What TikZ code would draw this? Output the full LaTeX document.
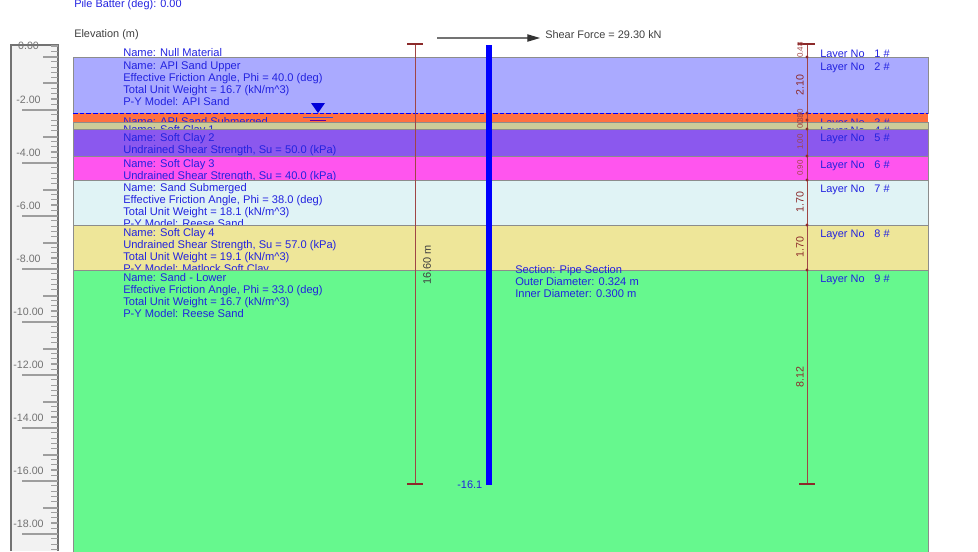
\documentclass[tikz,border=0pt]{standalone}
\usepackage{fontspec}
\setmainfont{Liberation Sans}
\usetikzlibrary{arrows.meta}
\definecolor{soilupper}{HTML}{AAAAFF}
\definecolor{soilorange}{HTML}{FF7040}
\definecolor{soilkhaki}{HTML}{CCCC99}
\definecolor{soilpurple}{HTML}{8B58EE}
\definecolor{soilmagenta}{HTML}{FF55EE}
\definecolor{soilcyan}{HTML}{E0F3F5}
\definecolor{soilyellow}{HTML}{EEE699}
\definecolor{soilgreen}{HTML}{66F88E}
\definecolor{soilink}{HTML}{2222E0}
\definecolor{dimred}{HTML}{A04545}
\definecolor{dimdark}{HTML}{8C2A2A}
\tikzset{
soiltext/.style={anchor=north west, inner sep=0pt, align=left, text=soilink, font=\fontsize{8.35}{9}\selectfont},
layerno/.style={anchor=west, inner sep=0pt, text=soilink, font=\fontsize{8.2}{9}\selectfont},
plaintext/.style={anchor=west, inner sep=0pt, text=black!75, font=\fontsize{8.2}{9}\selectfont},
rulertext/.style={inner sep=0pt, text=black!55, font=\fontsize{8}{9}\selectfont},
soillayer/.style={draw=black!45, line width=0.5pt},
dimline/.style={draw=dimred, line width=0.6pt},
dimcap/.style={draw=dimdark, line width=1pt},
dimdot/.style={circle, fill=dimdark, inner sep=0pt, minimum size=2.5pt},
dimbig/.style={rotate=90, inner sep=0pt, text=dimdark, font=\fontsize{8}{9}\selectfont},
dimsmall/.style={rotate=90, inner sep=0pt, text=dimred, font=\fontsize{6}{7}\selectfont},
ticksmall/.style={draw=black!38, line width=0.8pt},
}
\begin{document}
\begin{tikzpicture}[x=0.75pt,y=-0.75pt]
\useasboundingbox (0,0) rectangle (978,551);
% ruler
\fill[black!5] (11,45) rectangle (58,551);
\draw[draw=black!55,line width=1.2pt] (11,551) -- (11,45) -- (58,45) -- (58,551);
\foreach \y in {0,...,95} {
\draw[ticksmall] (51,{46+5.3*\y}) -- (58,{46+5.3*\y});
}
\foreach \y in {57,83,137,190,243,296,349,402,455,508} {
\draw[ticksmall] (43,\y) -- (58,\y);
}
\foreach \y in {110,163,216,269,322,375,428,481,534} {
\draw[ticksmall] (22,\y) -- (58,\y);
}
\foreach \y/\t in {46/0.00,100/-2.00,153/-4.00,206/-6.00,259/-8.00,312/-10.00,365/-12.00,418/-14.00,471/-16.00,524/-18.00} {
\node[rulertext] at (28.5,\y) {\t};
}
% heading
\node[plaintext,text=soilink] at (74,5) (batter) {Pile Batter (deg): 0.00};
\node[plaintext] at (74,35) (elevation) {Elevation (m)};
% layers, each one covers the end of the text above it
\node[soiltext] at (123,48.5) (null) {Name: Null Material};
\node[layerno] at (820,54.5) (no1) {Layer No\hspace{0.9em}1 \#};

\filldraw[soillayer,fill=soilupper] (73,57) rectangle (928,113);
\node[soiltext] at (123,61.5) (upper) {Name: API Sand Upper\\Effective Friction Angle, Phi = 40.0 (deg)\\Total Unit Weight = 16.7 (kN/m\^{}3)\\P-Y Model: API Sand};
\node[layerno] at (820,67.5) (no2) {Layer No\hspace{0.9em}2 \#};

\fill[soilorange] (73,113) rectangle (928,122);
\node[soiltext] at (123,117) (submerged) {Name: API Sand Submerged};
\node[layerno] at (820,123.5) (no3) {Layer No\hspace{0.9em}3 \#};

\filldraw[soillayer,fill=soilkhaki] (73,122) rectangle (928,129);
\node[soiltext] at (123,125) (clay1) {Name: Soft Clay 1};
\node[layerno] at (820,131.5) (no4) {Layer No\hspace{0.9em}4 \#};

\filldraw[soillayer,fill=soilpurple] (73,129) rectangle (928,156);
\node[soiltext] at (123,133.5) (clay2) {Name: Soft Clay 2\\Undrained Shear Strength, Su = 50.0 (kPa)};
\node[layerno] at (820,139) (no5) {Layer No\hspace{0.9em}5 \#};

\filldraw[soillayer,fill=soilmagenta] (73,156) rectangle (928,180);
\node[soiltext] at (123,159.5) (clay3) {Name: Soft Clay 3\\Undrained Shear Strength, Su = 40.0 (kPa)};
\node[layerno] at (820,165.5) (no6) {Layer No\hspace{0.9em}6 \#};

\filldraw[soillayer,fill=soilcyan] (73,180) rectangle (928,225);
\node[soiltext] at (123,183.5) (sandsub) {Name: Sand Submerged\\Effective Friction Angle, Phi = 38.0 (deg)\\Total Unit Weight = 18.1 (kN/m\^{}3)\\P-Y Model: Reese Sand};
\node[layerno] at (820,189.5) (no7) {Layer No\hspace{0.9em}7 \#};

\filldraw[soillayer,fill=soilyellow] (73,225) rectangle (928,270);
\node[soiltext] at (123,228.5) (clay4) {Name: Soft Clay 4\\Undrained Shear Strength, Su = 57.0 (kPa)\\Total Unit Weight = 19.1 (kN/m\^{}3)\\P-Y Model: Matlock Soft Clay};
\node[layerno] at (820,234.5) (no8) {Layer No\hspace{0.9em}8 \#};

\filldraw[soillayer,fill=soilgreen] (73,270) -- (928,270) -- (928,552) -- (73,552) -- cycle;
\node[soiltext] at (123,273.5) (sandlow) {Name: Sand - Lower\\Effective Friction Angle, Phi = 33.0 (deg)\\Total Unit Weight = 16.7 (kN/m\^{}3)\\P-Y Model: Reese Sand};
\node[layerno] at (820,279.5) (no9) {Layer No\hspace{0.9em}9 \#};
% water table
\draw[blue,line width=0.7pt,dash pattern=on 3.5pt off 1.5pt] (73,113) -- (928,113);
\fill[blue!85!black] (311,103) -- (325,103) -- (318,113) -- cycle;
\draw[black!30!blue!70,line width=0.5pt] (303,117) -- (333,117);
\draw[blue!60!red,line width=0.6pt] (310,120) -- (326,120);
% pile length
\coordinate (lentop) at (415,44);
\coordinate (lenbot) at (415,484);
\draw[dimline] (lentop) -- (lenbot);
\draw[dimcap] (407,44) -- (423,44);
\draw[dimcap] (407,484) -- (423,484);
\node[rotate=90,inner sep=0pt,text=black!75,font=\fontsize{8.2}{9}\selectfont] at (427,265) (lenlabel) {16.60 m};
% pile
\coordinate (piletop) at (489,45);
\coordinate (pilebot) at (489,485);
\draw[blue,line width=5pt] (piletop) -- (pilebot);
\node[anchor=east,inner sep=0pt,text=soilink,font=\fontsize{8.2}{9}\selectfont] at (482.5,485) (piletip) {-16.1};
% shear force
\coordinate (sheartail) at (437,38);
\coordinate (shearhead) at (540,38);
\draw[black!55,line width=0.8pt,-{Triangle[length=9.5pt,width=5.5pt,black!80]}] (sheartail) -- (shearhead);
\node[plaintext] at (545,34.5) (shear) {Shear Force = 29.30 kN};
% section
\node[soiltext] at (515,265.5) (section) {Section: Pipe Section\\Outer Diameter: 0.324 m\\Inner Diameter: 0.300 m};
% layer thickness
\coordinate (thtop) at (807,44);
\coordinate (thbot) at (807,484);
\draw[dimline] (thtop) -- (thbot);
\draw[dimcap] (798,44) -- (815,44);
\draw[dimcap] (799,484) -- (815,484);
\foreach \y in {57,113,120,129,156,180,225,270} {
\node[dimdot] at (807,\y) {};
}
\node[dimsmall] at (800,50) (th1) {0.48};
\node[dimbig] at (800,85) (th2) {2.10};
\node[dimsmall] at (800,117) (th3) {0.30};
\node[dimsmall] at (800,121) (th4) {0.30};
\node[dimsmall] at (800,142) (th5) {1.00};
\node[dimsmall] at (800,168) (th6) {0.90};
\node[dimbig] at (800,202) (th7) {1.70};
\node[dimbig] at (800,247) (th8) {1.70};
\node[dimbig] at (800,377) (th9) {8.12};
\end{tikzpicture}
\end{document}
